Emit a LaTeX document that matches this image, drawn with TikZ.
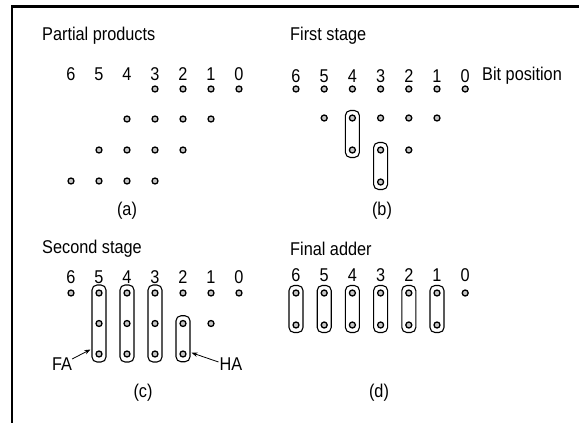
\documentclass[tikz,border=0pt]{standalone}
\usepackage{fontspec}
\setmainfont[FakeStretch=0.88]{Liberation Sans}
\usetikzlibrary{arrows.meta,calc}
\begin{document}
\begin{tikzpicture}[x=1pt,y=-1pt,
  dot/.style={circle,draw=black,fill=gray!45,line width=1.3pt,inner sep=0pt,minimum size=6pt},
  lbl/.style={font=\fontsize{18.5}{20}\selectfont,inner sep=0pt},
  title/.style={lbl,anchor=west},
  grp/.style={draw=black,line width=1.1pt,rounded corners=5pt,minimum width=14pt,inner sep=0pt},
  arr/.style={-{Stealth[length=6pt,width=4.5pt]},line width=0.8pt}]
\useasboundingbox (0,0) rectangle (579,423);
\draw[line width=2.6pt] (12,440) -- (12,6.5) -- (600,6.5);
% ---------- (a) ----------
\node[title] (ta) at (42,36) {Partial products};
\foreach \i in {0,...,6} \node[lbl] (ad\i) at ({71+28*(6-\i)},74) {\i};
\foreach \i in {0,...,3} \node[dot] (a1\i) at ({71+28*(6-\i)},89) {};
\foreach \i in {1,...,4} \node[dot] (a2\i) at ({71+28*(6-\i)},119) {};
\foreach \i in {2,...,5} \node[dot] (a3\i) at ({71+28*(6-\i)},150) {};
\foreach \i in {3,...,6} \node[dot] (a4\i) at ({71+28*(6-\i)},181) {};
\node[lbl] (capa) at (127,211) {(a)};
% ---------- (b) ----------
\node[title] (tb) at (290,36) {First stage};
\foreach \i in {0,...,6} \node[lbl] (bd\i) at ({296+28.2*(6-\i)},76) {\i};
\node[lbl,anchor=west] (bitpos) at (482,76) {Bit position};
\foreach \i in {0,...,6} \node[dot] (b1\i) at ({296+28.2*(6-\i)},89) {};
\foreach \i in {1,...,5} \node[dot] (b2\i) at ({296+28.2*(6-\i)},118) {};
\foreach \i in {2,...,4} \node[dot] (b3\i) at ({296+28.2*(6-\i)},150) {};
\node[dot] (b43) at ({296+28.2*3},182) {};
\node[grp,minimum height=47pt] (bbox4) at ({296+28.2*2},134) {};
\node[grp,minimum height=47pt] (bbox3) at ({296+28.2*3},166) {};
\node[lbl] (capb) at (382,211) {(b)};
% ---------- (c) ----------
\node[title] (tc) at (42,249) {Second stage};
\foreach \i in {0,...,6} \node[lbl] (cd\i) at ({71+28*(6-\i)},277) {\i};
\foreach \i in {0,...,6} \node[dot] (c1\i) at ({71+28*(6-\i)},293) {};
\foreach \i in {1,...,5} \node[dot] (c2\i) at ({71+28*(6-\i)},323.5) {};
\foreach \i in {2,...,5} \node[dot] (c3\i) at ({71+28*(6-\i)},354) {};
\foreach \i in {3,...,5} \node[grp,minimum height=77pt] (cbox\i) at ({71+28*(6-\i)},323.5) {};
\node[grp,minimum height=46pt] (cbox2) at ({71+28*4},338.75) {};
\node[lbl] (FA) at (62,364) {FA};
\node[lbl] (HA) at (231,364) {HA};
\coordinate (faTip) at ($(cbox5.west)+(-1,26)$);
\coordinate (haTip) at ($(cbox2.east)+(1,14)$);
\draw[arr] ($(FA.east)+(0,-5)$) -- (faTip);
\draw[arr] ($(HA.west)+(-1,-2)$) -- (haTip);
\node[lbl] (capc) at (143,393) {(c)};
% ---------- (d) ----------
\node[title] (td) at (290,249) {Final adder};
\foreach \i in {0,...,6} \node[lbl] (dd\i) at ({296+28.2*(6-\i)},275) {\i};
\foreach \i in {0,...,6} \node[dot] (d1\i) at ({296+28.2*(6-\i)},293) {};
\foreach \i in {1,...,6} \node[dot] (d2\i) at ({296+28.2*(6-\i)},325) {};
\foreach \i in {1,...,6} \node[grp,minimum height=47pt] (dbox\i) at ({296+28.2*(6-\i)},309) {};
\node[lbl] (capd) at (379,393) {(d)};
\end{tikzpicture}
\end{document}
